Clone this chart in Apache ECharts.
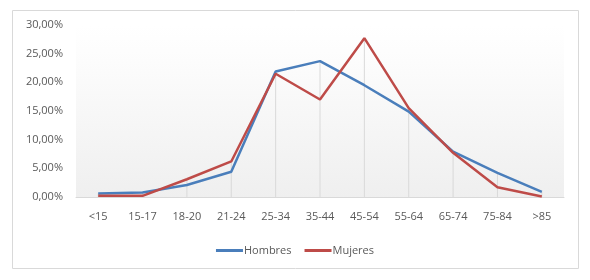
<!DOCTYPE html>
<html><head><meta charset="utf-8">
<script src="https://cdn.jsdelivr.net/npm/echarts@6/dist/echarts.min.js"></script>
<style>html,body{margin:0;padding:0;background:#fff}#c{width:590px;height:280px}</style>
</head><body><div id="c"></div>
<script>
const categories = ['<15','15-17','18-20','21-24','25-34','35-44','45-54','55-64','65-74','75-84','>85'];
const hombres = [0.6, 0.8, 2.1, 4.4, 21.9, 23.7, 19.5, 14.9, 7.9, 4.2, 0.9];
const mujeres = [0.2, 0.2, 3.1, 6.2, 21.5, 17.0, 27.7, 15.5, 7.7, 1.7, 0.1];
const yTicks = [0, 5, 10, 15, 20, 25, 30];
const dropLines = categories.map((c, i) => Math.max(hombres[i], mujeres[i]));

const chart = echarts.init(document.getElementById('c'));
const font = '"Open Sans", "Liberation Sans", sans-serif';
chart.setOption({
  animation: false,
  graphic: [{
    type: 'rect', shape: {x: 12.5, y: 10.5, width: 566, height: 258},
    style: {fill: 'none', stroke: '#d9d9d9', lineWidth: 1}, silent: true, z: -10
  }],
  grid: {
    left: 76, right: 26, top: 25, bottom: 83, show: true, borderWidth: 0,
    backgroundColor: new echarts.graphic.LinearGradient(0, 0, 0, 1, [
      {offset: 0, color: '#ffffff'}, {offset: 0.15, color: '#fdfdfd'}, {offset: 1, color: '#efefef'}
    ])
  },
  legend: {
    data: ['Hombres', 'Mujeres'], bottom: 19, left: 'center',
    itemWidth: 27, itemHeight: 3, itemGap: 13,
    icon: 'rect',
    textStyle: {color: '#595959', fontSize: 11, fontFamily: font, padding: [0,0,0,-4]}
  },
  xAxis: {
    type: 'category', data: categories, boundaryGap: true,
    axisLine: {lineStyle: {color: '#d9d9d9'}}, axisTick: {show: false},
    axisLabel: {color: '#595959', fontSize: 11, fontFamily: font, margin: 14}
  },
  yAxis: {
    type: 'value', min: yTicks[0], max: yTicks[yTicks.length-1], interval: 5,
    axisLine: {show: false}, axisTick: {show: false}, splitLine: {show: false},
    axisLabel: {color: '#595959', fontSize: 11, fontFamily: font, margin: 13,
      formatter: v => v.toFixed(2).replace('.', ',') + '%'}
  },
  series: [
    {type: 'bar', data: dropLines, barWidth: 1, itemStyle: {color: '#d9d9d9'}, silent: true, z: 1, legendHoverLink: false},
    {name: 'Hombres', type: 'line', data: hombres, symbol: 'none', z: 3,
      lineStyle: {color: '#4a7ebb', width: 2.5}, itemStyle: {color: '#4a7ebb'}},
    {name: 'Mujeres', type: 'line', data: mujeres, symbol: 'none', z: 4,
      lineStyle: {color: '#be4b48', width: 2.5}, itemStyle: {color: '#be4b48'}}
  ]
});
</script></body></html>
